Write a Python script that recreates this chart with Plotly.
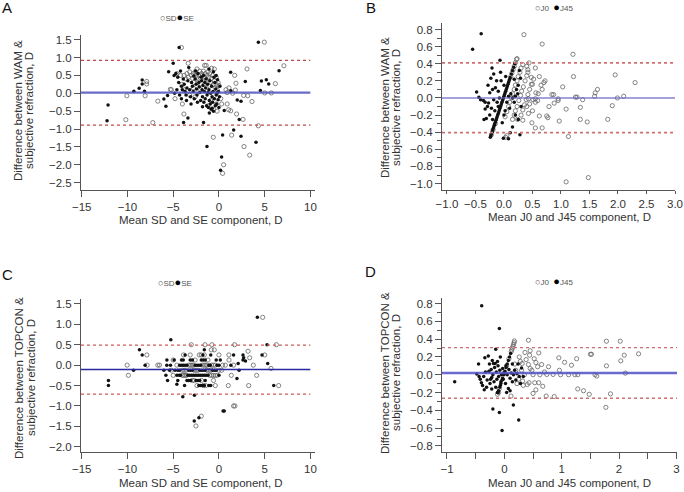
import plotly.graph_objects as go

W, H = 684, 492

# ---------------- data ----------------
# Panel A : WAM vs subjective, SD (open) and SE (filled)
A_SD = [(-4.1, 1.28), (4.96, 1.43), (-3.36, 0.84), (-1.57, 0.78), (-1.4, 0.78), (3.07, 0.68), (7.1, 0.77),
        (1.72, 0.5), (6.17, 0.27), (5.73, 0.01), (5.0, 0.01), (-10.18, -0.74), (-10.07, -0.07), (-7.9, 0.33),
        (-7.9, 0.26), (-8.07, -0.07), (-7.23, -0.82), (-6.68, -0.22), (-5.31, 0.11), (-3.83, -0.58),
        (-0.62, -1.23), (1.39, -1.17), (2.74, -1.49), (3.36, -1.73), (4.31, -0.91), (0.51, -2.0), (0.4, -2.24),
        (1.93, -0.58), (2.63, -0.73), (3.61, -0.23), (3.14, -0.07), (0.77, 0.1), (1.06, -0.46), (1.28, -0.49),
        (0.9, 0.02), (1.5, 0.0), (1.1, 0.15), (1.86, 0.28), (1.79, 0.09), (2.7, -0.06), (0.9, -0.3),
        (-5.2, 0.1), (-4.8, -0.15), (-4.6, 0.55), (-4.2, 0.5), (-4.0, -0.3), (-3.8, 0.5), (-3.6, 0.4),
        (-3.5, 0.55), (-3.35, 0.45), (-3.2, 0.6), (-3.0, 0.5), (-2.9, 0.42), (-2.8, 0.55), (-2.7, 0.3),
        (-2.6, 0.6), (-2.5, 0.5), (-2.4, 0.45), (-2.3, 0.3), (-2.2, 0.5), (-2.1, 0.62), (-2.0, 0.42),
        (-1.9, 0.55), (-1.8, 0.5), (-1.7, 0.62), (-1.6, 0.45), (-1.5, 0.55), (-1.4, 0.38), (-1.3, 0.5),
        (-1.2, 0.6), (-1.1, 0.45), (-1.0, 0.55), (-0.9, 0.3), (-0.8, 0.42), (-0.7, 0.5), (-0.6, 0.25),
        (-0.5, 0.35), (-0.4, 0.15), (-0.3, 0.25), (-0.2, 0.1), (-0.1, 0.3), (0.0, 0.22), (-0.5, 0.68),
        (-2.4, 0.68), (-1.2, -0.35), (-0.6, -0.45), (-0.3, -0.3), (-0.9, -0.2), (-2.6, -0.1), (-3.2, -0.05),
        (-2.0, 0.1), (-1.6, 0.25), (0.2, -0.15), (0.3, -0.3), (-0.2, -0.5), (-4.05, 0.25), (-3.9, 0.12),
        (-0.8, 0.7), (-0.3, 0.45), (-1.0, 0.2), (-2.8, 0.15)]
A_SE = [(-12.12, -0.33), (-12.23, -0.77), (-9.3, 0.06), (-8.72, 0.14), (-8.39, 0.37), (-8.39, 0.26),
        (-8.14, 0.06), (-6.02, -0.16), (-5.8, -0.36), (-5.62, -0.06), (-5.5, 0.6), (-5.0, 0.84), (-4.35, 1.28),
        (-3.87, -0.82), (-3.39, -0.69), (-1.68, -0.82), (-1.31, -1.49), (0.4, -1.17), (1.61, -1.03),
        (2.41, -1.2), (4.05, -1.37), (0.29, -1.78), (0.18, -2.15), (2.22, -0.73), (2.0, -0.19), (2.41, -0.22),
        (1.28, 0.59), (2.88, 0.33), (4.31, 1.43), (4.64, 0.34), (5.18, 0.38), (5.44, 0.26), (4.53, 0.08),
        (6.57, 0.63), (0.58, -0.48), (1.3, 0.07), (-4.9, 0.5), (-4.7, 0.55), (-4.5, 0.45), (-4.4, 0.3),
        (-4.2, 0.62), (-4.1, 0.2), (-4.0, 0.1), (-3.9, 0.4), (-3.8, 0.25), (-3.7, 0.05), (-3.6, -0.05),
        (-3.5, 0.15), (-3.4, 0.35), (-3.3, 0.72), (-3.2, 0.1), (-3.1, -0.1), (-3.0, 0.3), (-2.9, 0.2),
        (-2.8, 0.05), (-2.7, -0.15), (-2.6, 0.4), (-2.5, 0.25), (-2.45, 0.12), (-2.4, -0.05), (-2.3, 0.55),
        (-2.2, 0.3), (-2.15, 0.18), (-2.1, 0.02), (-2.0, -0.2), (-1.95, 0.45), (-1.9, 0.35), (-1.85, 0.1),
        (-1.8, -0.1), (-1.75, 0.22), (-1.7, 0.5), (-1.65, -0.25), (-1.6, 0.05), (-1.55, 0.3), (-1.5, -0.15),
        (-1.45, 0.15), (-1.4, 0.4), (-1.35, -0.35), (-1.3, -0.05), (-1.25, 0.25), (-1.2, 0.02), (-1.15, -0.4),
        (-1.1, 0.1), (-1.05, -0.2), (-1.0, 0.35), (-0.95, -0.3), (-0.9, 0.0), (-0.85, -0.45), (-0.8, 0.2),
        (-0.75, -0.1), (-0.7, -0.25), (-0.65, 0.05), (-0.6, -0.5), (-0.55, 0.45), (-0.5, -0.15), (-0.45, 0.3),
        (-0.4, -0.35), (-0.35, 0.12), (-0.3, -0.05), (-0.25, -0.3), (-0.2, 0.0), (-0.15, 0.38), (-0.1, -0.18),
        (-0.05, 0.05), (0.0, -0.4), (0.05, -0.1), (0.1, 0.2), (-3.05, -0.3), (-2.75, 0.48), (-2.35, -0.25),
        (-1.8, -0.38), (-1.05, -0.55), (-0.75, -0.42), (-0.3, 0.5), (-1.1, 0.68), (-0.6, 0.6), (-2.55, 0.62),
        (-3.55, -0.2), (-4.3, -0.05), (-4.6, 0.1), (-4.85, 0.0), (-4.1, -0.15)]
A_LINES = [0.02, 0.92, -0.89]          # mean, upper LoA, lower LoA

# Panel B : WAM vs subjective, J0 (open) and J45 (filled)
B_J0 = [(0.35, 0.74), (0.67, 0.63), (1.21, 0.51), (1.22, 0.25), (1.95, 0.27), (2.3, 0.18), (2.1, 0.02),
        (1.99, 0.0), (1.9, -0.09), (1.82, -0.25), (1.64, 0.1), (1.6, 0.06), (1.59, 0.02), (1.38, -0.02),
        (1.34, -0.11), (1.34, -0.25), (1.46, -0.28), (1.255, 0.01), (1.28, 0.01), (1.09, -0.13), (1.13, -0.45),
        (1.09, -0.98), (1.48, -0.93), (1.03, 0.13), (0.97, -0.27), (0.95, -0.03), (0.95, -0.01), (0.88, -0.06),
        (0.84, 0.04), (0.87, 0.04), (0.79, -0.1), (0.75, -0.21), (0.77, -0.23), (0.67, -0.35), (0.55, -0.35),
        (0.62, -0.21), (0.49, -0.29), (0.33, -0.26), (0.24, -0.25), (0.05, -0.44), (0.03, -0.46),
        (0.7, 0.18), (0.72, 0.2), (0.67, 0.1), (0.62, 0.25), (0.55, 0.35), (0.48, 0.24), (0.5, 0.16),
        (0.56, 0.06), (0.55, -0.01), (0.59, -0.03), (0.51, -0.02), (0.43, -0.01), (0.45, -0.07), (0.4, -0.1),
        (0.43, -0.18), (0.4, 0.37), (0.44, 0.41), (0.42, 0.33),
        (0.12, 0.25), (0.14, 0.29), (0.16, 0.33), (0.18, 0.37), (0.2, 0.41), (0.22, 0.45), (0.23, 0.46),
        (0.02, -0.22), (0.05, -0.16), (0.08, -0.1), (0.1, -0.05), (0.13, 0.0), (0.15, 0.05), (0.18, 0.1),
        (0.2, 0.15), (0.23, 0.2), (0.25, 0.25), (0.28, 0.3), (0.3, 0.35), (0.33, 0.39),
        (0.15, -0.25), (0.18, -0.2), (0.2, -0.15), (0.23, -0.1), (0.26, -0.03), (0.29, 0.03), (0.31, 0.08),
        (0.34, 0.13), (0.37, 0.2), (0.4, 0.26), (0.42, 0.3),
        (0.3, -0.2), (0.33, -0.14), (0.36, -0.08), (0.39, -0.02), (0.42, 0.04), (0.45, 0.1), (0.48, 0.16),
        (0.52, 0.22), (0.5, -0.15), (0.55, -0.05), (0.6, 0.05), (0.65, 0.15), (-0.22, -0.43), (-0.19, -0.37),
        (-0.15, -0.3)]
B_J45 = [(-0.55, 0.57), (-0.4, 0.75), (-0.07, 0.44), (-0.21, 0.35), (-0.18, 0.28), (-0.23, 0.23),
         (-0.48, 0.07), (-0.44, 0.01), (-0.41, -0.02), (-0.36, -0.03), (-0.33, -0.05), (-0.29, -0.1),
         (-0.33, -0.13), (-0.35, -0.25), (-0.31, -0.24), (-0.27, -0.06), (-0.25, 0.06), (-0.28, 0.15),
         (-0.2, 0.1), (-0.15, 0.12), (-0.13, 0.2), (-0.1, 0.08), (-0.08, 0.0), (-0.12, -0.05), (-0.18, -0.02),
         (-0.22, -0.12), (-0.16, -0.15), (-0.1, -0.1), (-0.05, 0.2), (0.0, 0.15), (0.03, 0.25), (0.05, -0.05),
         (0.08, 0.02), (0.1, -0.12), (0.12, 0.05), (0.15, 0.0), (0.18, -0.05), (0.2, 0.02), (0.22, 0.1),
         (0.25, 0.15), (0.27, 0.32), (0.29, 0.23), (0.3, -0.1), (0.28, -0.43), (0.15, -0.34), (0.08, -0.475),
         (-0.01, -0.47), (-0.03, -0.29), (0.11, -0.405), (0.2, -0.2), (0.25, -0.25), (-0.25, -0.2),
         (-0.2, -0.25), (0.02, -0.15), (0.18, 0.22), (0.24, 0.05), (-0.06, 0.3), (0.0, -0.2),
         (-0.24, -0.46), (-0.23, -0.44), (-0.22, -0.42), (-0.21, -0.4), (-0.2, -0.38), (-0.19, -0.36),
         (-0.18, -0.34), (-0.17, -0.32), (-0.16, -0.3), (-0.15, -0.28), (-0.14, -0.26), (-0.13, -0.24),
         (-0.12, -0.22), (-0.11, -0.2), (-0.1, -0.18), (-0.09, -0.16), (-0.08, -0.14), (-0.07, -0.12),
         (-0.06, -0.1), (-0.05, -0.08), (-0.04, -0.06), (-0.03, -0.04), (-0.02, -0.02), (-0.01, 0.0),
         (0.0, 0.02), (0.01, 0.04), (0.02, 0.06), (0.03, 0.08), (0.04, 0.1), (0.05, 0.12), (0.06, 0.14),
         (0.07, 0.16), (0.08, 0.18), (0.09, 0.2), (0.1, 0.22), (0.11, 0.24), (0.13, 0.28), (0.15, 0.32),
         (0.17, 0.36), (0.19, 0.4)]
B_LINES = [0.0, 0.41, -0.405]

# Panel C : TOPCON vs subjective, SD (open) and SE (filled)
C_SD = [(-3.03, 0.5), (-1.53, 0.5), (-0.77, 0.5), (1.71, 0.5), (6.28, 0.5), (-0.84, 0.375), (-0.51, 0.375),
        (3.18, 0.34), (-7.88, 0.25), (-3.87, 0.25), (-3.14, 0.25), (-2.15, 0.25), (-1.93, 0.25), (-1.6, 0.25),
        (0.0, 0.25), (1.09, 0.25), (5.0, 0.25), (-5.0, 0.125), (-2.6, 0.125), (-1.2, 0.125), (1.1, 0.125),
        (3.36, 0.18), (-10.04, 0.0), (-7.85, 0.0), (-6.68, 0.0), (-6.5, 0.0), (-4.6, 0.0), (-3.3, 0.0),
        (-3.1, 0.0), (-2.95, 0.0), (-2.8, 0.0), (-1.8, 0.0), (-1.6, 0.0), (-1.45, 0.0), (-1.3, 0.0),
        (-0.8, 0.0), (-0.6, 0.0), (-0.4, 0.0), (0.4, 0.0), (0.7, 0.0), (1.6, 0.0), (3.76, 0.0),
        (-5.2, -0.125), (-4.0, -0.125), (-3.8, -0.125), (-3.6, -0.125), (-2.7, -0.125), (-2.5, -0.125),
        (-2.3, -0.125), (-1.3, -0.125), (-1.1, -0.125), (-0.9, -0.125), (0.0, -0.125), (0.3, -0.125),
        (5.69, -0.08), (-9.9, -0.25), (-5.0, -0.25), (-4.0, -0.25), (-3.85, -0.25), (-3.7, -0.25),
        (-3.55, -0.25), (-1.0, -0.25), (-0.8, -0.25), (-0.6, -0.25), (-0.4, -0.25), (-0.2, -0.25),
        (1.35, -0.25), (4.12, -0.25), (-2.9, -0.375), (-2.7, -0.375), (-1.9, -0.375), (-0.6, -0.375),
        (-2.4, -0.5), (-1.7, -0.5), (-1.45, -0.5), (-0.4, -0.5), (1.02, -0.5), (3.25, -0.5), (6.53, -0.5),
        (4.78, 1.17), (1.6, -1.0), (1.75, -1.0), (-1.93, -1.25), (-2.52, -1.49)]
C_SE = [(-12.08, -0.375), (-12.08, -0.5), (-9.34, -0.125), (-8.69, 0.375), (-8.39, 0.25), (-8.07, 0.0),
        (-5.26, 0.625), (-3.95, -0.775), (-2.68, -0.74), (-2.7, -1.37), (-2.19, -1.29), (0.45, -1.12),
        (0.58, -1.12), (4.2, 1.17), (5.26, 0.5), (5.33, 0.04), (5.99, -0.5), (4.71, 0.25), (2.63, 0.25),
        (1.6, 0.25), (1.97, -0.33), (2.1, 0.04), (2.9, 0.1), (2.7, 0.18), (-1.6, 0.375), (-3.7, 0.25),
        (-1.75, 0.25), (-0.9, 0.25), (-5.69, 0.125), (-4.9, 0.125), (-4.09, 0.125), (-3.9, 0.125),
        (-3.14, 0.125), (-2.9, 0.125), (-1.93, 0.125), (-1.72, 0.125), (-1.5, 0.125), (-0.3, 0.125),
        (0.15, 0.125), (2.63, 0.125), (-5.7, 0.0), (-5.3, 0.0), (-4.3, 0.0), (-4.1, 0.0), (-3.9, 0.0),
        (-3.7, 0.0), (-3.5, 0.0), (-2.6, 0.0), (-2.4, 0.0), (-2.2, 0.0), (-2.0, 0.0), (-1.1, 0.0),
        (-0.95, 0.0), (-0.2, 0.0), (0.0, 0.0), (1.3, 0.0), (-6.02, -0.125), (-5.4, -0.125), (-4.8, -0.125),
        (-4.5, -0.125), (-4.3, -0.125), (-3.3, -0.125), (-3.1, -0.125), (-2.9, -0.125), (-2.1, -0.125),
        (-1.9, -0.125), (-1.7, -0.125), (-1.5, -0.125), (-0.7, -0.125), (-0.5, -0.125), (-0.3, -0.125),
        (2.2, -0.125), (-5.8, -0.25), (-4.6, -0.25), (-4.35, -0.25), (-4.2, -0.25), (-3.4, -0.25),
        (-3.2, -0.25), (-3.0, -0.25), (-2.8, -0.25), (-2.6, -0.25), (-2.4, -0.25), (-2.2, -0.25),
        (-2.0, -0.25), (-1.8, -0.25), (-1.6, -0.25), (-1.4, -0.25), (-1.2, -0.25), (0.0, -0.25),
        (-5.62, -0.375), (-4.5, -0.375), (-3.5, -0.375), (-3.3, -0.375), (-3.1, -0.375), (-2.5, -0.375),
        (-2.3, -0.375), (-2.1, -0.375), (-1.5, -0.375), (-3.76, -0.5), (-4.6, -0.47), (-2.2, -0.5),
        (-2.0, -0.5), (-1.8, -0.5), (-1.6, -0.5), (-1.1, -0.5), (-0.9, -0.5)]
C_LINES = [-0.105, 0.49, -0.71]

# Panel D : TOPCON vs subjective, J0 (open) and J45 (filled)
D_J0 = [(0.42, 0.388), (0.45, 0.27), (0.6, 0.245), (0.36, 0.25), (0.31, 0.126), (0.42, 0.115), (0.45, 0.07),
        (0.55, 0.137), (0.58, 0.09), (0.65, 0.115), (0.77, 0.09), (0.74, 0.003), (0.85, 0.003), (0.95, 0.19),
        (0.96, 0.05), (0.98, 0.0), (1.05, 0.14), (1.12, 0.0), (1.17, 0.107), (1.23, 0.0), (1.28, 0.0),
        (1.26, 0.18), (1.28, -0.16), (1.38, -0.18), (1.48, -0.22), (1.5, 0.23), (1.52, 0.23), (1.58, 0.0),
        (1.61, -0.015), (1.78, 0.377), (1.78, 0.1), (1.85, -0.215), (1.77, -0.367), (2.02, 0.377),
        (2.03, 0.156), (2.09, 0.22), (2.11, 0.018), (2.34, 0.235), (0.116, -0.24), (0.5, -0.21),
        (0.55, -0.17), (0.73, -0.24), (0.87, -0.245), (0.67, -0.13), (0.6, -0.09), (0.53, -0.09),
        (0.4, -0.11), (0.43, -0.09), (0.5, 0.0), (0.62, 0.0), (0.44, 0.22), (0.3, 0.05), (0.25, -0.05),
        (0.28, 0.15), (0.33, -0.12), (0.35, 0.0), (0.38, 0.17), (0.2, 0.05), (0.22, -0.1), (0.26, 0.2),
        (0.18, 0.12), (0.32, -0.07), (0.48, 0.05), (0.52, 0.18), (0.7, 0.03),
        (0.12, 0.26), (0.13, 0.28), (0.14, 0.3), (0.15, 0.32), (0.16, 0.34), (0.17, 0.36), (0.175, 0.38),
        (-0.12, -0.22), (-0.1, -0.2), (-0.09, -0.16), (0.0, 0.02), (0.04, 0.1), (0.08, 0.18)]
D_J45 = [(-0.395, 0.776), (-0.087, 0.519), (-0.866, -0.08), (-0.2, -0.386), (-0.087, -0.424),
         (-0.04, -0.626), (0.25, -0.51), (0.157, -0.341), (-0.15, 0.287), (-0.48, 0.007), (-0.45, 0.12),
         (-0.34, 0.19), (-0.28, 0.21), (-0.38, -0.12), (-0.31, -0.14), (-0.3, -0.06), (-0.33, 0.03),
         (-0.19, 0.126), (-0.16, 0.126), (0.07, -0.155), (0.2, -0.06), (0.3, 0.077), (-0.42, -0.05),
         (-0.4, -0.09), (-0.36, -0.02), (-0.27, 0.04), (-0.25, -0.1), (-0.23, 0.06), (-0.22, -0.03),
         (-0.2, 0.0), (-0.18, -0.08), (-0.17, 0.08), (-0.14, 0.03), (-0.13, -0.05), (-0.11, 0.1),
         (-0.1, -0.02), (-0.08, 0.05), (-0.06, -0.08), (-0.05, 0.0), (-0.03, 0.07), (-0.02, -0.05),
         (0.0, 0.02), (0.02, -0.1), (0.03, 0.1), (0.05, 0.0), (0.08, 0.06), (0.1, -0.04), (0.12, 0.02),
         (0.14, -0.08), (0.16, 0.0), (0.18, 0.05), (0.22, 0.01), (0.24, 0.12), (0.26, -0.02), (-0.26, 0.12),
         (-0.21, 0.16), (-0.12, 0.15), (-0.07, 0.2), (-0.35, -0.17), (-0.22, -0.16), (-0.15, -0.14),
         (-0.12, -0.2), (0.04, -0.2), (0.1, -0.18), (0.33, -0.02), (0.28, -0.1), (-0.44, -0.02),
         (-0.24, -0.05), (0.14, 0.12), (-0.11, -0.2), (-0.1, -0.18), (-0.08, -0.14), (-0.07, -0.12),
         (-0.06, -0.1), (-0.04, -0.06), (-0.03, -0.04), (-0.01, 0.0), (0.01, 0.04), (0.03, 0.08),
         (0.05, 0.12), (0.07, 0.16), (0.09, 0.2), (0.11, 0.24)]
D_LINES = [0.02, 0.305, -0.265]

LETTERS = ["A", "B", "C", "D"]
Y_TITLES = [["Difference between WAM &", "subjective refraction, D"],
            ["Difference between WAM &", "subjective refraction, D"],
            ["Difference between TOPCON &", "subjective refraction, D"],
            ["Difference between TOPCON &", "subjective refraction, D"]]
X_TITLES = ["Mean SD and SE component, D", "Mean J0 and J45 component, D",
            "Mean SD and SE component, D", "Mean J0 and J45 component, D"]
LEGENDS = [("SD", "SE"), ("J0", "J45"), ("SD", "SE"), ("J0", "J45")]

# ---------------- layout helpers ----------------
FONT = "Liberation Sans, Arial, sans-serif"
TXT = "#333333"


def fx(p):
    return p / W


def fy(p):
    return 1 - p / H


panels = [
    dict(open=A_SD, filled=A_SE, lines=A_LINES, xr=[-15.08, 10.5], yr=[-2.705, 1.63], xd=(81, 315), yd=(35, 190),
         xt=dict(tickvals=[-15, -10, -5, 0, 5, 10]), yt=dict(tickvals=[1.5, 1.0, 0.5, 0.0, -0.5, -1.0, -1.5, -2.0, -2.5], tickformat=".1f"),
         xtl_len=6, line_frac=(0, 0.98), mean_col="rgba(80,80,190,0.85)", mean_w=2.2, loa_col="#c04848", loa_w=1.1,
         letter=(7, 8), leg=(177, 17), ytl=(18, 29, 111), xtl=(201, 220)),
    dict(open=B_J0, filled=B_J45, lines=B_LINES, xr=[-1.087, 3.0], yr=[-1.075, 0.876], xd=(442, 675), yd=(23, 190),
         xt=dict(tickvals=[-1.0, -0.5, 0.0, 0.5, 1.0, 1.5, 2.0, 2.5, 3.0], tickformat=".1f"),
         yt=dict(tickvals=[0.8, 0.6, 0.4, 0.2, 0.0, -0.2, -0.4, -0.6, -0.8, -1.0], tickformat=".1f"),
         xtl_len=3, yminor=0.1, line_frac=(0, 1), mean_col="rgba(100,100,200,0.8)", mean_w=1.6, loa_col="#d07070", loa_w=1.6,
         letter=(371, 8), leg=(554, 7), ytl=(385, 396, 108), xtl=(569, 217)),
    dict(open=C_SD, filled=C_SE, lines=C_LINES, xr=[-15.08, 10.5], yr=[-2.127, 1.62], xd=(81, 315), yd=(299, 452),
         xt=dict(tickvals=[-15, -10, -5, 0, 5, 10]), yt=dict(tickvals=[1.5, 1.0, 0.5, 0.0, -0.5, -1.0, -1.5, -2.0], tickformat=".1f"),
         xtl_len=6, line_frac=(0, 0.98), mean_col="#2a2aa0", mean_w=1.5, loa_col="#d05a5a", loa_w=1.2,
         letter=(7, 274), leg=(175, 282), ytl=(19, 31, 378), xtl=(201, 483)),
    dict(open=D_J0, filled=D_J45, lines=D_LINES, xr=[-1.087, 3.01], yr=[-0.869, 0.863], xd=(442, 677), yd=(298, 452),
         xt=dict(tickvals=[-1, 0, 1, 2, 3]), yt=dict(tickvals=[0.8, 0.6, 0.4, 0.2, 0.0, -0.2, -0.4, -0.6, -0.8], tickformat=".1f"),
         xtl_len=6, xminor=0.5, yminor=0.1, line_frac=(0, 1), mean_col="rgba(80,80,200,0.85)", mean_w=2.6, loa_col="#cc7070", loa_w=1.4,
         letter=(370, 271), leg=(554, 281), ytl=(385, 396, 373), xtl=(569, 483)),
]

fig = go.Figure()
layout = dict(width=W, height=H, margin=dict(l=0, r=0, t=0, b=0, autoexpand=False), paper_bgcolor="white",
              plot_bgcolor="white", showlegend=False, font=dict(family=FONT, size=11.5, color=TXT))
shapes, annotations = [], []

for i, p in enumerate(panels):
    n = "" if i == 0 else str(i + 1)
    xa, ya = "x" + n, "y" + n
    xkey, ykey = "xaxis" + n, "yaxis" + n
    common = dict(showgrid=False, zeroline=False, showline=True, linecolor="#555", linewidth=1, ticks="outside",
                  tickcolor="#555", tickfont=dict(family=FONT, size=11.5, color=TXT), mirror=False,
                  automargin=False)
    xax = dict(common, ticklen=p["xtl_len"], domain=[fx(p["xd"][0]), fx(p["xd"][1])], range=p["xr"], anchor=ya,
               tickmode="array", **p["xt"])
    yax = dict(common, ticklen=6, domain=[fy(p["yd"][1]), fy(p["yd"][0])], range=p["yr"], anchor=xa,
               tickmode="array", **p["yt"])
    if "xminor" in p:
        xax["minor"] = dict(dtick=p["xminor"], ticklen=p["xtl_len"], tickcolor="#555", ticks="outside")
    if "yminor" in p:
        yax["minor"] = dict(dtick=p["yminor"], ticklen=4, tickcolor="#555", ticks="outside")
    layout[xkey] = xax
    layout[ykey] = yax

    fig.add_trace(go.Scatter(x=[q[0] for q in p["open"]], y=[q[1] for q in p["open"]], mode="markers",
                             xaxis=xa, yaxis=ya, cliponaxis=False, hoverinfo="skip",
                             marker=dict(symbol="circle-open", size=4.2, color="#666", line=dict(width=0.8))))
    fig.add_trace(go.Scatter(x=[q[0] for q in p["filled"]], y=[q[1] for q in p["filled"]], mode="markers",
                             xaxis=xa, yaxis=ya, cliponaxis=False, hoverinfo="skip",
                             marker=dict(symbol="circle", size=3.5, color="#111")))

    mean, up, lo = p["lines"]
    x0, x1 = p["line_frac"]
    shapes.append(dict(type="line", xref=xa + " domain", yref=ya, x0=x0, x1=x1, y0=mean, y1=mean, layer="above",
                       line=dict(color=p["mean_col"], width=p["mean_w"])))
    for v in (up, lo):
        shapes.append(dict(type="line", xref=xa + " domain", yref=ya, x0=x0, x1=x1, y0=v, y1=v, layer="above",
                           line=dict(color=p["loa_col"], width=p["loa_w"], dash="dot")))

    # panel letter
    annotations.append(dict(text=LETTERS[i], xref="paper", yref="paper", x=fx(p["letter"][0]), y=fy(p["letter"][1]),
                            xanchor="center", yanchor="middle", showarrow=False,
                            font=dict(family=FONT, size=15, color="#111")))
    # legend
    a, b = LEGENDS[i]
    gap = "" if a == "SD" else "  "
    leg_txt = ("<span style='font-size:9px'>○</span>" + a + gap +
               "<span style='font-size:11px;color:#000'>●</span>" + b)
    annotations.append(dict(text=leg_txt, xref="paper", yref="paper", x=fx(p["leg"][0]), y=fy(p["leg"][1]),
                            xanchor="center", yanchor="middle", showarrow=False,
                            font=dict(family=FONT, size=8, color="#555")))
    # y title (two lines)
    l1, l2 = Y_TITLES[i]
    xa1, xa2, yc = p["ytl"]
    for t, xx in ((l1, xa1), (l2, xa2)):
        annotations.append(dict(text=t, xref="paper", yref="paper", x=fx(xx), y=fy(yc), textangle=-90,
                                xanchor="center", yanchor="middle", showarrow=False,
                                font=dict(family=FONT, size=11.5, color=TXT)))
    # x title
    annotations.append(dict(text=X_TITLES[i], xref="paper", yref="paper", x=fx(p["xtl"][0]), y=fy(p["xtl"][1]),
                            xanchor="center", yanchor="middle", showarrow=False,
                            font=dict(family=FONT, size=11.5, color=TXT)))

layout["shapes"] = shapes
layout["annotations"] = annotations
fig.update_layout(**layout)
fig.write_html("out.html", config={"displayModeBar": False, "staticPlot": True},
               post_script="document.body.style.margin='0px';")
